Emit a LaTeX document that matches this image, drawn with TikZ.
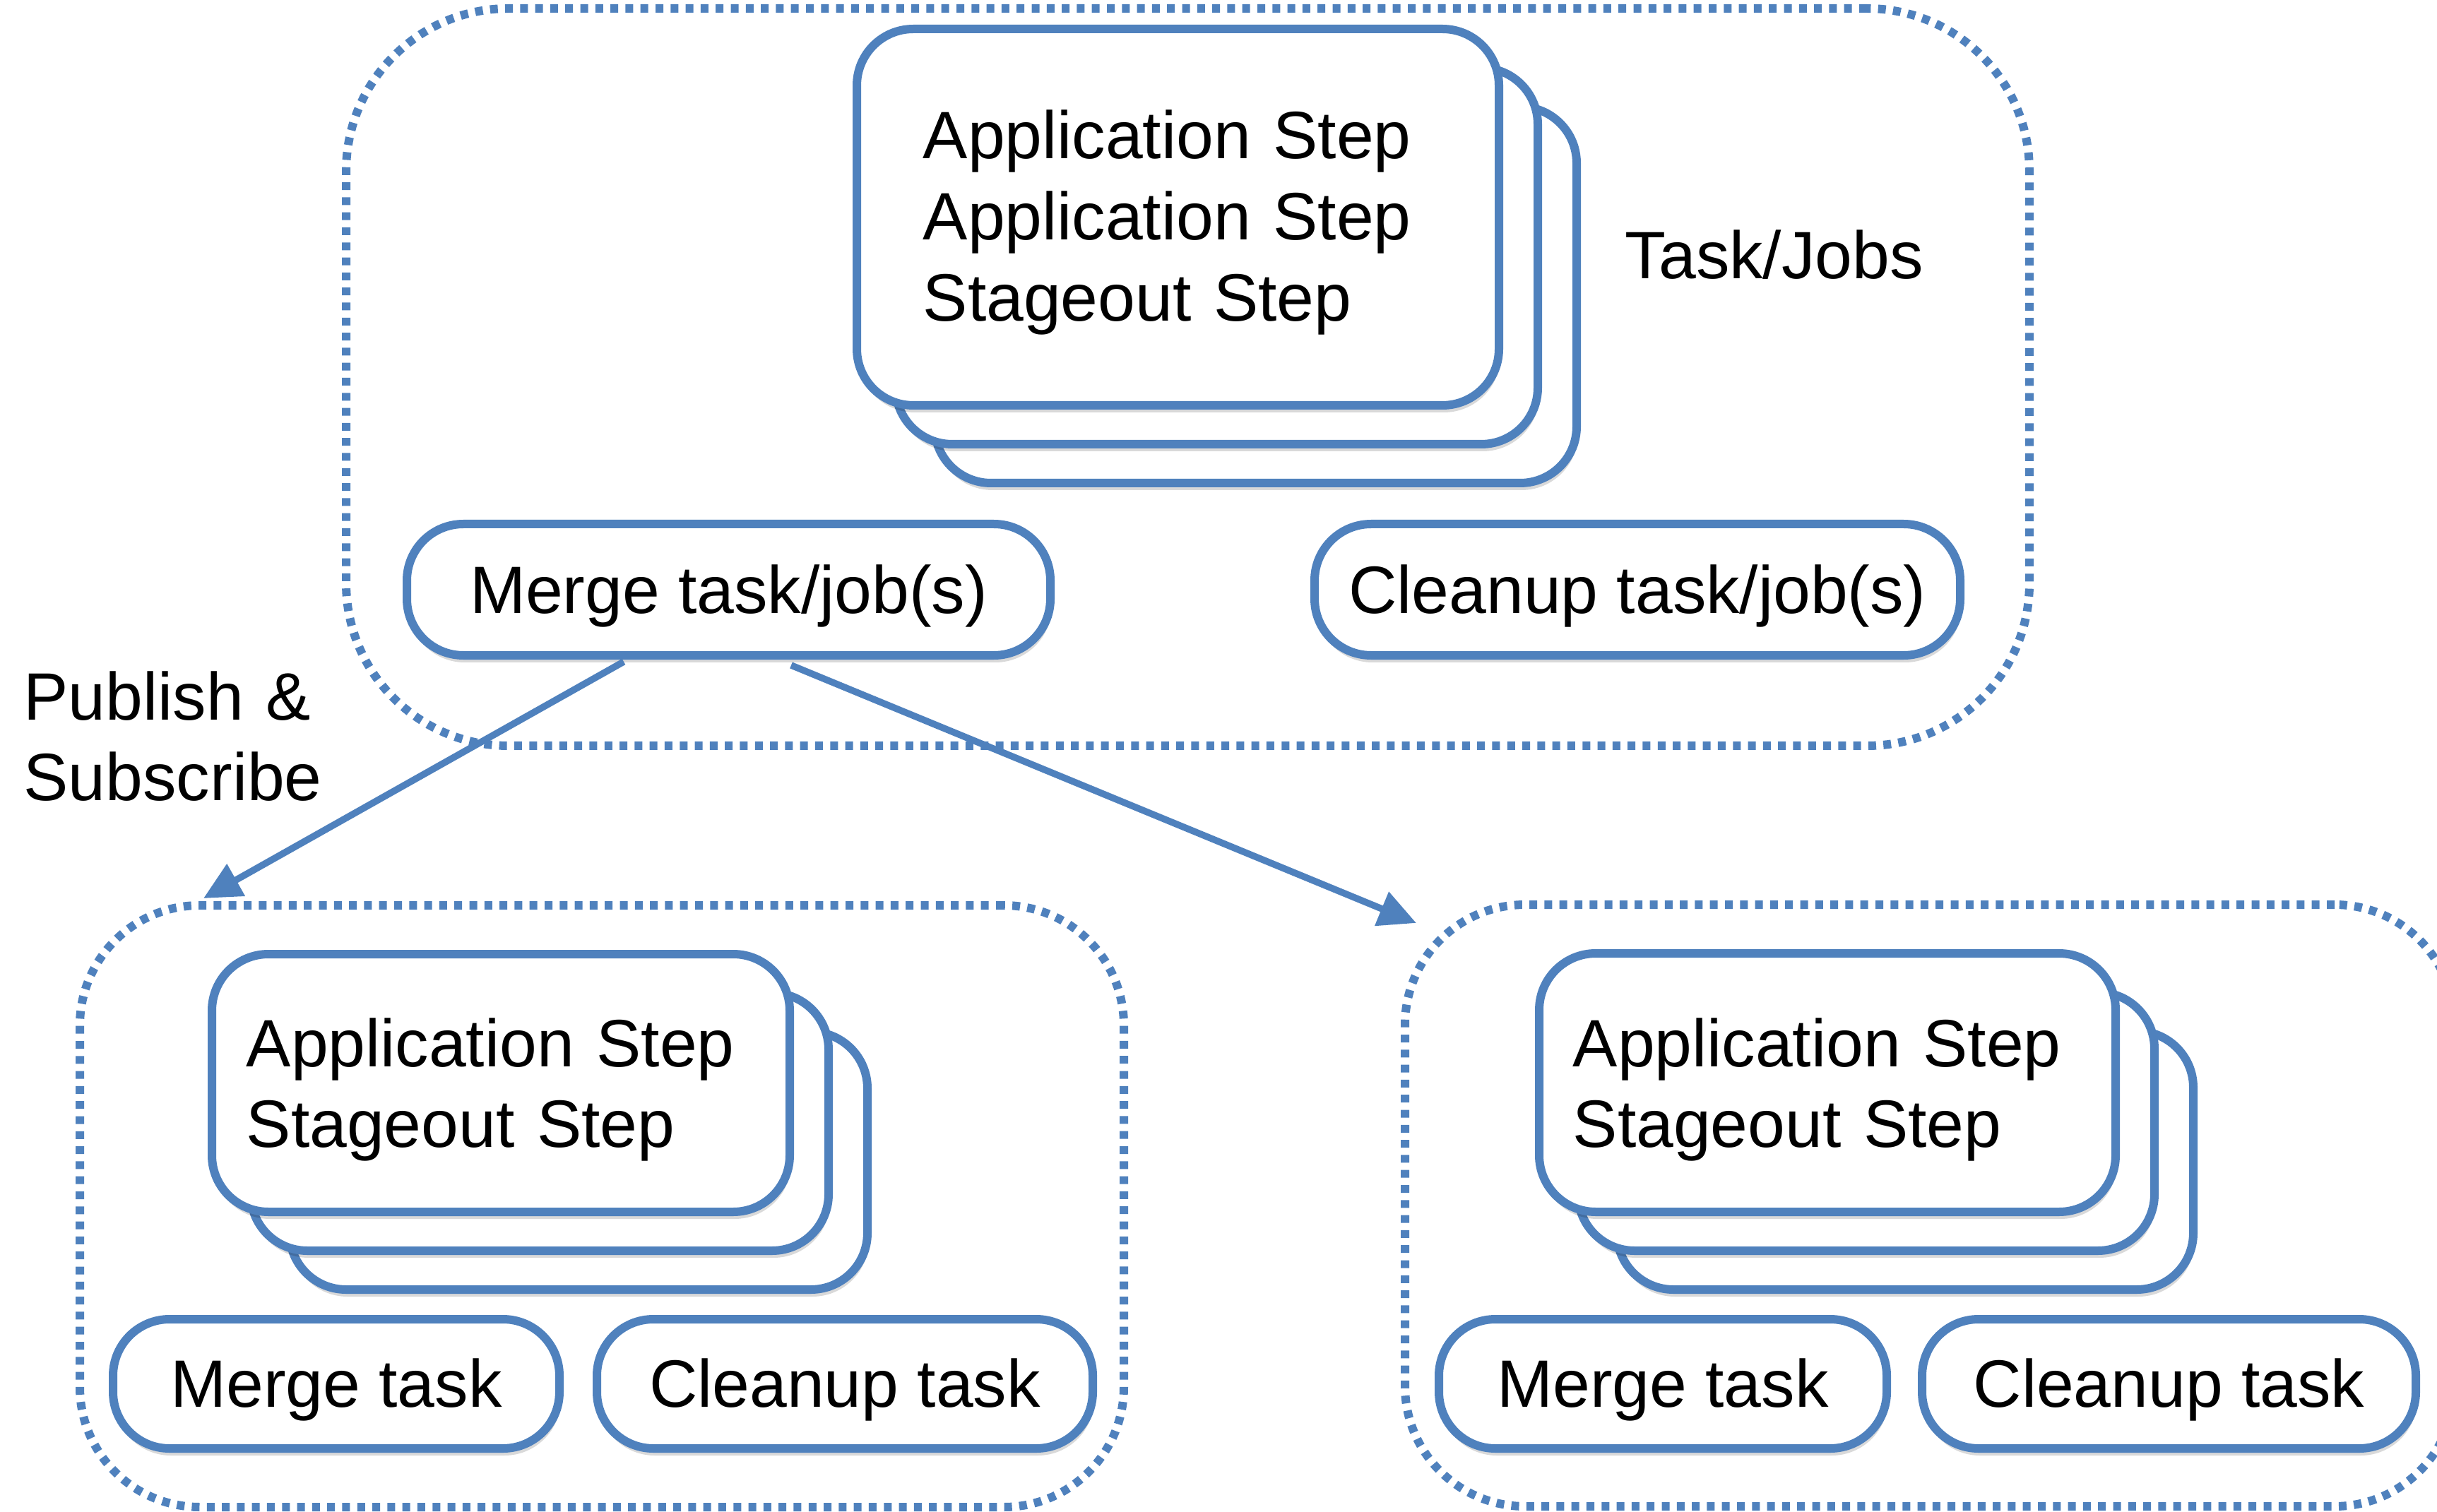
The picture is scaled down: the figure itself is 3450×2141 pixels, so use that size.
\documentclass[tikz,border=0pt]{standalone}
\usepackage{fontspec}
\setmainfont{Liberation Sans}
\usetikzlibrary{arrows.meta,shadows}
\definecolor{boxblue}{RGB}{79,129,189}
\begin{document}
\begin{tikzpicture}[x=0.1mm,y=-0.1mm,
  container/.style={draw=boxblue, line width=1.2mm, dash pattern=on 1.1mm off 1.03mm,
    rounded corners=#1, inner sep=0, rectangle},
  stepbox/.style={draw=boxblue, line width=1.2mm, fill=white, rounded corners=8mm,
    inner sep=0, rectangle,
    drop shadow={shadow xshift=0.2mm, shadow yshift=-1.0mm, opacity=0.15, fill=black}},
  txt/.style={font=\fontsize{27pt}{32.7pt}\selectfont, inner sep=0},
  pill/.style={stepbox, txt, text height=19pt, text depth=0pt, minimum height=#1},
  flow/.style={draw=boxblue, line width=0.95mm, -{Triangle[length=5.3mm, width=5mm]}}
]
\fill[white] (0,0) rectangle (3450,2141);
\useasboundingbox (0,0) rectangle (3450,2141);

% containers
\node[container=23mm, minimum width=238.3mm, minimum height=104.4mm] (ctop) at (1681.5,534) {};
\node[container=17mm, minimum width=147.8mm, minimum height=85.2mm] (cleft) at (852,1708) {};
\node[container=17mm, minimum width=148.6mm, minimum height=85.2mm] (cright) at (2732,1707) {};

% top stack
\node[stepbox, minimum width=90.9mm, minimum height=53.3mm] (t3) at (1777.5,417.5) {};
\node[stepbox, minimum width=90.9mm, minimum height=53.3mm] (t2) at (1722.5,362.5) {};
\node[stepbox, minimum width=90.9mm, minimum height=53.3mm] (t1) at (1667.5,307.5) {};
\node[txt, anchor=base west, text width=80mm, align=left] (t1text) at (1306,225)
  {Application Step\\Application Step\\Stageout Step};
\node[txt, anchor=base west] (tasks) at (2300,395) {Task/Jobs};

\node[pill=18.6mm, minimum width=91.1mm] (mjob) at (1031.5,835) {Merge task/job(s)};
\node[pill=18.6mm, minimum width=91.4mm] (cjob) at (2318,835) {Cleanup task/job(s)};

% bottom-left stack
\node[stepbox, minimum width=81.8mm, minimum height=36.5mm] (l3) at (819,1643.5) {};
\node[stepbox, minimum width=81.8mm, minimum height=36.5mm] (l2) at (764,1588.5) {};
\node[stepbox, minimum width=81.8mm, minimum height=36.5mm] (l1) at (709,1533.5) {};
\node[txt, anchor=base west, text width=75mm, align=left] (l1text) at (348,1510)
  {Application Step\\Stageout Step};
\node[pill=18.3mm, minimum width=63.2mm] (mL) at (476,1959.5) {Merge task};
\node[pill=18.3mm, minimum width=70.2mm] (cL) at (1196,1959.5) {Cleanup task};

% bottom-right stack
\node[stepbox, minimum width=81.6mm, minimum height=36.6mm] (r3) at (2697,1643) {};
\node[stepbox, minimum width=81.6mm, minimum height=36.6mm] (r2) at (2642,1588) {};
\node[stepbox, minimum width=81.6mm, minimum height=36.6mm] (r1) at (2587,1533) {};
\node[txt, anchor=base west, text width=75mm, align=left] (r1text) at (2226,1510)
  {Application Step\\Stageout Step};
\node[pill=18.3mm, minimum width=63.4mm] (mR) at (2354,1959.5) {Merge task};
\node[pill=18.3mm, minimum width=69.9mm] (cR) at (3070.5,1959.5) {Cleanup task};

% publish & subscribe
\node[txt, anchor=base west, text width=60mm, align=left] (pubsub) at (33,1019)
  {Publish \&\\Subscribe};

\coordinate (a1s) at (883,937);
\coordinate (a1e) at (288,1272);
\coordinate (a2s) at (1120,942);
\coordinate (a2e) at (2005,1307);
\draw[flow] (a1s) -- (a1e);
\draw[flow] (a2s) -- (a2e);
\end{tikzpicture}
\end{document}
